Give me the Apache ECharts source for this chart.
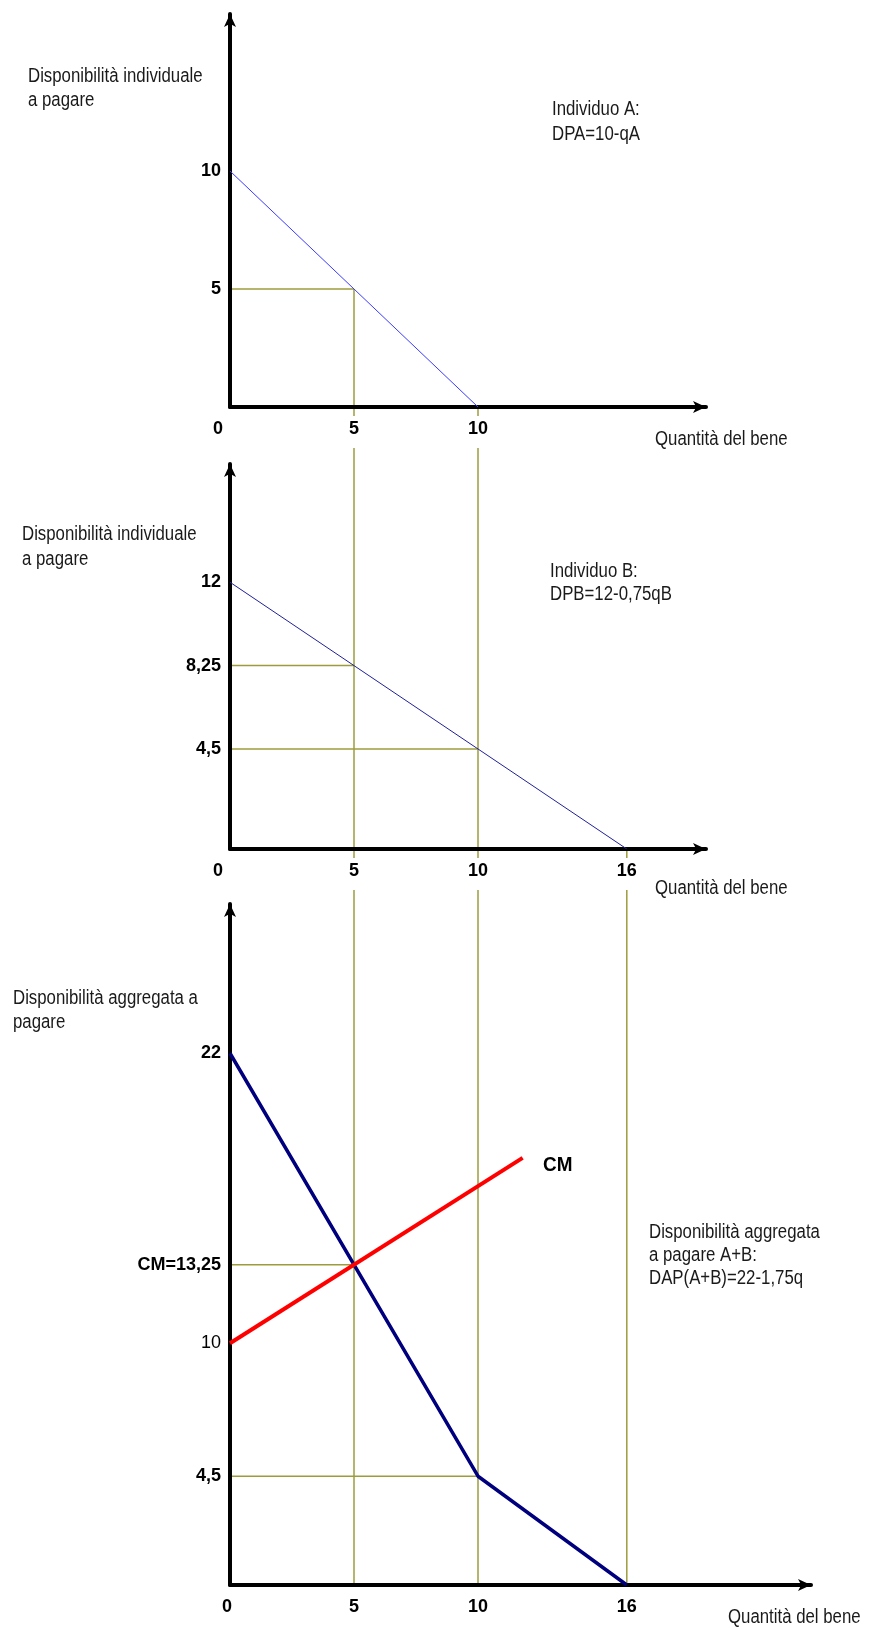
<!DOCTYPE html>
<html>
<head>
<meta charset="utf-8">
<script src="https://cdn.jsdelivr.net/npm/echarts@6/dist/echarts.min.js"></script>
<style>
  html, body { margin: 0; padding: 0; background: #fff; }
  #chart { width: 869px; height: 1629px; }
</style>
</head>
<body>
<div id="chart"></div>
<script>
// quantity ticks shown under each panel
const qTicksA = [0, 5, 10];
const qTicksB = [0, 5, 10, 16];
const qTicksAgg = [0, 5, 10, 16];

// price ticks on each vertical axis
const pTicksA = [5, 10];
const pTicksB = [4.5, 8.25, 12];
const pTicksAgg = [4.5, 10, 13.25, 22];

// individual A: DPA = 10 - qA
const dpaQ = [0, 10];
const dpaP = [10, 0];

// individual B: DPB = 12 - 0,75 qB
const dpbQ = [0, 16];
const dpbP = [12, 0];

// aggregate A+B (kinked)
const dapQ = [0, 10, 16];
const dapP = [22, 4.5, 0];

// marginal cost
const cmQ = [0, 11.8];
const cmP = [10, 17.67];

// reading points (horizontal guides from the price axis)
const guideQA = [5];
const guidePA = [5];
const guideQB = [5, 10];
const guidePB = [8.25, 4.5];
const guideQAgg = [5, 10];
const guidePAgg = [13.25, 4.5];

// vertical drop lines: quantity, panel where they start, price where they start
const dropQ = [5, 10, 16];
const dropPanel = [0, 0, 1];
const dropP = [5, 0, 0];

const FONT = "'Liberation Sans', Arial, sans-serif";
const OLIVE = '#9c9c3c';

const zip = (xs, ys) => xs.map((x, i) => [x, ys[i]]);
const fmt = (v) => String(v).replace('.', ',');

// layout of the three panels (pixels)
const LEFT = 230;
const PX_Q = 24.8;
const panels = [
  { top: 14, height: 393, width: 476, pxP: 23.6, qTicks: qTicksA, pTicks: pTicksA },
  { top: 464, height: 385, width: 476, pxP: 22.23, qTicks: qTicksB, pTicks: pTicksB },
  { top: 904, height: 681, width: 581, pxP: 24.17, qTicks: qTicksAgg, pTicks: pTicksAgg },
];

const axisLine = {
  show: true,
  onZero: false,
  symbol: ['none', 'arrow'],
  symbolSize: [9, 13],
  lineStyle: { color: '#000', width: 4 },
};

const grid = panels.map((p) => ({
  left: LEFT, top: p.top, width: p.width, height: p.height,
}));

const tickFont = { fontFamily: FONT, fontSize: 18, fontWeight: 'bold', color: '#000' };

const xAxis = panels.map((p, i) => ({
  type: 'value',
  gridIndex: i,
  min: 0,
  max: p.width / PX_Q,
  z: 5,
  axisLine,
  axisTick: { show: false },
  splitLine: { show: false },
  axisLabel: {
    customValues: p.qTicks,
    margin: 9,
    formatter: (v) => (v === 0 ? '{z|0}' : fmt(v)),
    ...tickFont,
    backgroundColor: '#fff',
    padding: [4, 3, 10, 3],
    rich: {
      z: { ...tickFont, padding: [0, i === 2 ? 6 : 24, 0, 0] },
    },
  },
}));

const yAxis = panels.map((p, i) => ({
  type: 'value',
  gridIndex: i,
  min: 0,
  max: p.height / p.pxP,
  z: 5,
  axisLine,
  axisTick: { show: false },
  splitLine: { show: false },
  axisLabel: {
    customValues: p.pTicks,
    margin: 9,
    formatter: (v) => {
      if (i === 2 && v === 13.25) return 'CM=' + fmt(v);
      if (i === 2 && v === 10) return '{r|10}';
      return fmt(v);
    },
    ...tickFont,
    rich: { r: { ...tickFont, fontWeight: 'normal' } },
  },
}));

const line = (i, data, color, width, z) => ({
  type: 'line',
  xAxisIndex: i,
  yAxisIndex: i,
  data,
  symbol: 'none',
  silent: true,
  z,
  lineStyle: { color, width },
});

const guides = (i, qs, ps) =>
  qs.map((q, k) => line(i, [[0, ps[k]], [q, ps[k]]], OLIVE, 1.5, 3));

const series = [
  ...guides(0, guideQA, guidePA),
  ...guides(1, guideQB, guidePB),
  ...guides(2, guideQAgg, guidePAgg),
  line(0, zip(dpaQ, dpaP), '#3b3bff', 1, 6),
  line(1, zip(dpbQ, dpbP), '#202098', 1, 6),
  line(2, zip(dapQ, dapP), '#00007f', 3.5, 6),
  line(2, zip(cmQ, cmP), '#ff0000', 4, 6),
];

const chart = echarts.init(document.getElementById('chart'), null, { renderer: 'canvas' });
chart.setOption({
  animation: false,
  backgroundColor: '#fff',
  grid,
  xAxis,
  yAxis,
  series,
});

// annotations: tall, slightly condensed sans like the original drawing
const note = (text, x, top, lineHeight, bold) => ({
  type: 'text',
  x,
  y: top,
  scaleX: bold ? 0.9 : 0.84,
  silent: true,
  z: 10,
  style: {
    text,
    fill: bold ? '#000' : '#1a1a1a',
    fontFamily: FONT,
    fontSize: bold ? 21 : 20,
    fontWeight: bold ? 'bold' : 'normal',
    lineHeight,
    align: 'left',
    verticalAlign: 'top',
  },
});

const notes = [
  note('Disponibilità individuale\na pagare', 28, 64, 24),
  note('Individuo A:\nDPA=10-qA', 552, 97, 25),
  note('Quantità del bene', 655, 427, 24),
  note('Disponibilità individuale\na pagare', 22, 522, 25),
  note('Individuo B:\nDPB=12-0,75qB', 550, 560, 23),
  note('Quantità del bene', 655, 876, 24),
  note('Disponibilità aggregata a\npagare', 13, 986, 24),
  note('CM', 543, 1153, 24, true),
  note('Disponibilità aggregata\na pagare A+B:\nDAP(A+B)=22-1,75q', 649, 1221, 23),
  note('Quantità del bene', 728, 1605, 24),
];

// drop lines run from the first panel where they appear down to the aggregate axis
const drops = dropQ.map((q, k) => {
  const a = chart.convertToPixel({ gridIndex: dropPanel[k] }, [q, dropP[k]]);
  const b = chart.convertToPixel({ gridIndex: 2 }, [q, 0]);
  return {
    type: 'line',
    silent: true,
    z: 1,
    shape: { x1: a[0], y1: a[1], x2: b[0], y2: b[1] },
    style: { stroke: OLIVE, lineWidth: 1.5 },
  };
});
chart.setOption({ graphic: [...notes, ...drops] });

window.addEventListener('resize', () => chart.resize());
</script>
</body>
</html>
